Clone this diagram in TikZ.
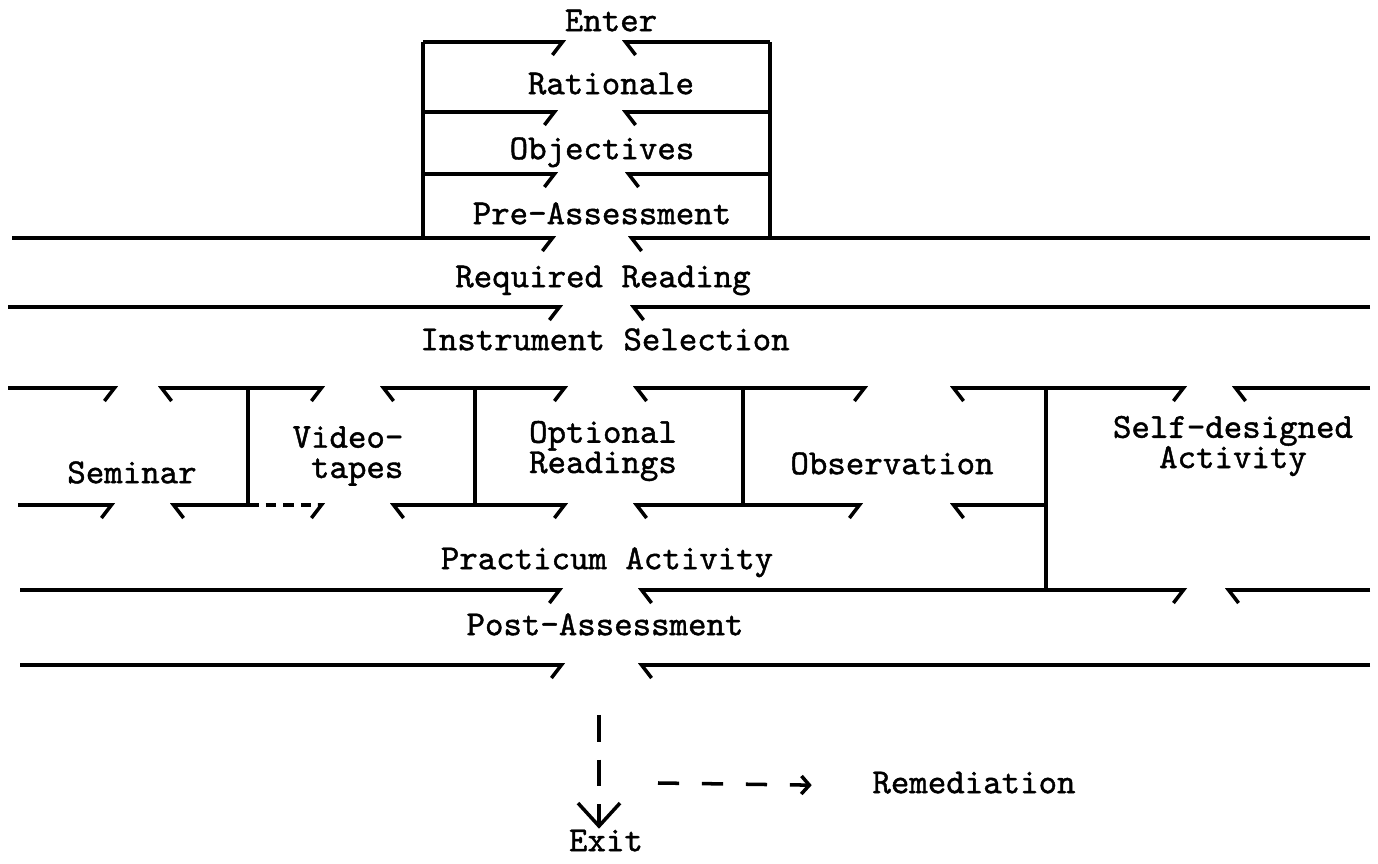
\documentclass[tikz,border=0pt]{standalone}
\usepackage{fontspec}
\setmonofont{Latin Modern Mono}[BoldFont=Latin Modern Mono,BoldFeatures={FakeBold=1.2}]
\usetikzlibrary{arrows.meta}
\tikzstyle{lbl}=[font=\ttfamily\bfseries\fontsize{10}{8.6}\selectfont,inner sep=0pt,text height=0.62em,text depth=0.21em]
\tikzstyle{lbltwo}=[font=\ttfamily\bfseries\fontsize{10}{8.6}\selectfont,inner sep=0pt,align=center]
\tikzstyle{rule}=[line width=1pt]
\tikzstyle{hookR}=[rule,-{Straight Barb[harpoon,swap,length=1mm,width=2.6mm]}]
\tikzstyle{hookL}=[rule,-{Straight Barb[harpoon,length=1mm,width=2.6mm]}]
\begin{document}
\begin{tikzpicture}[x=0.01cm,y=-0.01cm]
			\useasboundingbox (0,0) rectangle (1378,864);
			\node (enter) at (611,24) [lbl] {Enter};
			\node (ratl) at (611,87) [lbl] {Rationale};
			\node (obj) at (602,152) [lbl] {Objectives};
			\node (preass) at (602,217) [lbl] {Pre-Assessment};
			\node (reqread) at (603,280) [lbl] {Required Reading};
			\node (instsel) at (605,343) [lbl] {Instrument Selection};
			\node (seminar) at (132,476) [lbl] {Seminar};
			\node (video) at (348,456) [lbltwo,align=right] {Video-\\tapes};
			\node (optread) at (603,451) [lbltwo] {Optional\\Readings};
			\node (observ) at (892,467) [lbl] {Observation};
			\node (selfdes) at (1233,446) [lbltwo] {Self-designed\\Activity};
			\node (practicum) at (607,562) [lbl] {Practicum Activity};
			\node (postass) at (605,628) [lbl] {Post-Assessment};
			\node (exit) at (606,844) [lbl] {Exit};
			\node (remed) at (974,786) [lbl] {Remediation};
			\coordinate (exittop) at (599,715);
			\coordinate (remtail) at (658,783);
			
			\draw [rule] (423,42) -- (423,238);
			\draw [rule] (770,42) -- (770,238);
			\draw [hookR] (423,42) -- (566,42);
			\draw [hookL] (770,42) -- (622,42);
			\draw [hookR] (423,112) -- (558,112);
			\draw [hookL] (770,112) -- (622,112);
			\draw [hookR] (423,174) -- (558,174);
			\draw [hookL] (770,174) -- (625,174);
			\draw [hookR] (12,238) -- (556,238);
			\draw [hookL] (1370,238) -- (628,238);
			\draw [hookR] (8,307) -- (563,307);
			\draw [hookL] (1370,307) -- (630,307);
			
			\draw [hookR] (8,388) -- (118,388);
			\draw [hookL] (248,388) -- (158,388);
			\draw [hookR] (248,388) -- (325,388);
			\draw [hookL] (475,388) -- (380,388);
			\draw [hookR] (475,388) -- (568,388);
			\draw [hookL] (743,388) -- (633,388);
			\draw [hookR] (743,388) -- (868,388);
			\draw [hookL] (1046,388) -- (950,388);
			\draw [hookR] (1046,388) -- (1187,388);
			\draw [hookL] (1370,388) -- (1232,388);
			\draw [rule] (248,388) -- (248,505);
			\draw [rule] (475,388) -- (475,505);
			\draw [rule] (743,388) -- (743,505);
			\draw [rule] (1046,388) -- (1046,590);
			
			\draw [hookR] (18,505) -- (115,505);
			\draw [hookL] (248,505) -- (170,505);
			\draw [hookR,densely dashed] (248,505) -- (325,505);
			\draw [hookL] (475,505) -- (390,505);
			\draw [hookR] (475,505) -- (568,505);
			\draw [hookL] (743,505) -- (633,505);
			\draw [hookR] (743,505) -- (863,505);
			\draw [hookL] (1046,505) -- (950,505);
			
			\draw [hookR] (20,590) -- (563,590);
			\draw [hookL] (1046,590) -- (638,590);
			\draw [hookR] (1046,590) -- (1187,590);
			\draw [hookL] (1370,590) -- (1225,590);
			\draw [hookR] (20,665) -- (565,665);
			\draw [hookL] (1370,665) -- (638,665);
			
			\draw [rule,dash pattern=on 7.6pt off 5.1pt,-{Straight Barb[length=2.3mm,width=4.2mm]}] (exittop) -- (exittop |- exit.north);
			\draw [rule,dash pattern=on 6pt off 6.5pt,-{Straight Barb[length=0.8mm,width=1.8mm]},shorten >=6mm] (remtail) -- (remed.west);
\end{tikzpicture}
\end{document}
